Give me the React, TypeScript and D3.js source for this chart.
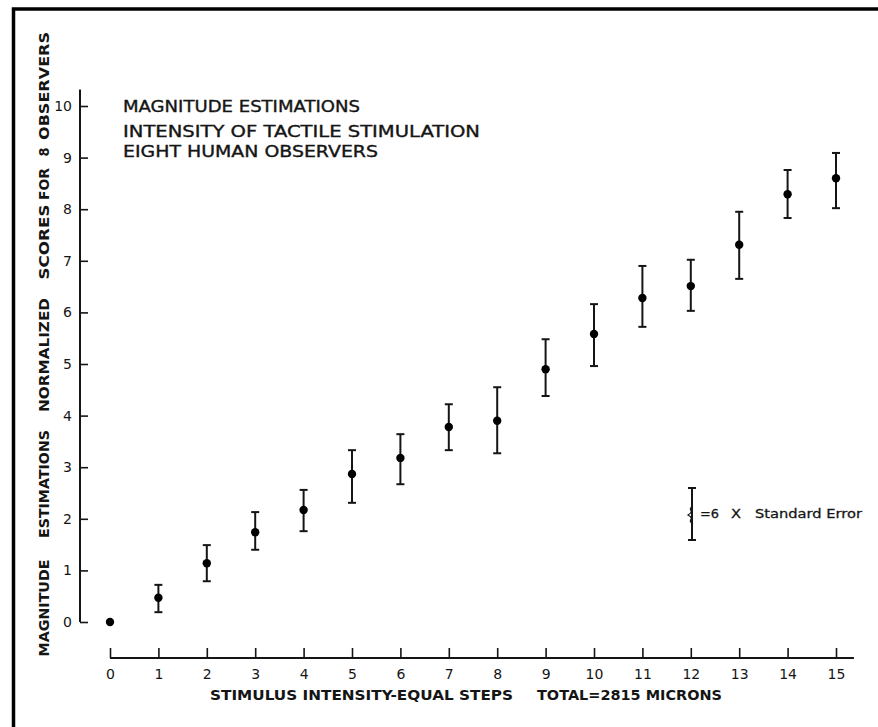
import React, { useRef, useEffect } from 'react';
import * as d3 from 'd3';

// stimulus steps (equal steps, total 2815 microns)
const steps = [0, 1, 2, 3, 4, 5, 6, 7, 8, 9, 10, 11, 12, 13, 14, 15];
// mean normalized magnitude estimations
const means = [0, 0.47, 1.14, 1.74, 2.17, 2.87, 3.18, 3.78, 3.9, 4.9, 5.58, 6.28, 6.51, 7.31, 8.29, 8.6];
// error bar ends (6 x standard error)
const upper = [null, 0.72, 1.49, 2.13, 2.56, 3.33, 3.64, 4.22, 4.55, 5.48, 6.16, 6.9, 7.02, 7.95, 8.76, 9.09];
const lower = [null, 0.19, 0.79, 1.4, 1.76, 2.31, 2.67, 3.33, 3.27, 4.38, 4.96, 5.72, 6.03, 6.65, 7.83, 8.02];
const yTicks = [0, 1, 2, 3, 4, 5, 6, 7, 8, 9, 10];

const titleLines = ['MAGNITUDE ESTIMATIONS', 'INTENSITY OF TACTILE STIMULATION', 'EIGHT HUMAN OBSERVERS'];
const yLabelWords = ['MAGNITUDE', 'ESTIMATIONS', 'NORMALIZED', 'SCORES', 'FOR', '8', 'OBSERVERS'];

const INK = '#151515';
const FONT = '"DejaVu Sans", sans-serif';

const App = () => {
  const ref = useRef<SVGSVGElement>(null);

  useEffect(() => {
    const svg = d3.select(ref.current);
    svg.selectAll('*').remove();

    const x = d3.scaleLinear().domain([0, 15]).range([110, 836]);
    const y = d3.scaleLinear().domain([0, 10]).range([622, 106]);

    // frame (only top and left edges show)
    svg.append('path')
      .attr('d', 'M13.5,727 V9 H878')
      .attr('fill', 'none')
      .attr('stroke', '#000')
      .attr('stroke-width', 3.5);

    // y axis
    const yAxis = d3.axisLeft(y)
      .tickValues(yTicks)
      .tickSizeInner(-8)
      .tickSizeOuter(0)
      .tickPadding(8)
      .tickFormat(d3.format('d'));
    const gy = svg.append('g').attr('transform', 'translate(80,0)').call(yAxis);
    gy.select('.domain').remove();
    gy.selectAll('line').attr('stroke', INK).attr('stroke-width', 1.6);
    gy.selectAll('text').attr('font-family', FONT).attr('font-size', 14).attr('fill', INK);
    svg.append('line')
      .attr('x1', 80).attr('x2', 80)
      .attr('y1', y(0)).attr('y2', y(10.32))
      .attr('stroke', INK).attr('stroke-width', 2);

    // x axis (offset below the plot)
    const xAxis = d3.axisBottom(x)
      .tickValues(steps)
      .tickSizeInner(-10)
      .tickSizeOuter(0)
      .tickPadding(11)
      .tickFormat(d3.format('d'));
    const gx = svg.append('g').attr('transform', 'translate(0,658)').call(xAxis);
    gx.select('.domain').remove();
    gx.selectAll('line').attr('stroke', INK).attr('stroke-width', 1.6);
    gx.selectAll('text').attr('font-family', FONT).attr('font-size', 14).attr('fill', INK);
    svg.append('line')
      .attr('x1', x(0)).attr('x2', x(15.37))
      .attr('y1', 658).attr('y2', 658)
      .attr('stroke', INK).attr('stroke-width', 2);

    // error bars
    const bars = steps.map((s, i) => ({ s, hi: upper[i], lo: lower[i] })).filter(d => d.hi != null);
    const eb = svg.append('g').attr('stroke', INK);
    eb.selectAll('line.bar').data(bars).join('line')
      .attr('class', 'bar')
      .attr('x1', d => x(d.s)).attr('x2', d => x(d.s))
      .attr('y1', d => y(d.hi as number)).attr('y2', d => y(d.lo as number))
      .attr('stroke-width', 2);
    eb.selectAll('line.cap-hi').data(bars).join('line')
      .attr('class', 'cap-hi')
      .attr('x1', d => x(d.s) - 4).attr('x2', d => x(d.s) + 4)
      .attr('y1', d => y(d.hi as number)).attr('y2', d => y(d.hi as number))
      .attr('stroke-width', 2);
    eb.selectAll('line.cap-lo').data(bars).join('line')
      .attr('class', 'cap-lo')
      .attr('x1', d => x(d.s) - 4).attr('x2', d => x(d.s) + 4)
      .attr('y1', d => y(d.lo as number)).attr('y2', d => y(d.lo as number))
      .attr('stroke-width', 2);

    // mean points
    svg.append('g').selectAll('circle').data(means).join('circle')
      .attr('cx', (d, i) => x(steps[i]))
      .attr('cy', d => y(d))
      .attr('r', 4.2)
      .attr('fill', '#000');

    // title block
    const titleLen = [237, 357, 255];
    const titleBase = [112, 137, 157];
    svg.append('g').selectAll('text').data(titleLines).join('text')
      .attr('x', 123)
      .attr('y', (d, i) => titleBase[i])
      .attr('textLength', (d, i) => titleLen[i])
      .attr('lengthAdjust', 'spacingAndGlyphs')
      .attr('font-family', FONT)
      .attr('font-size', 15)
      .attr('fill', INK)
      .attr('stroke', INK)
      .attr('stroke-width', 0.35)
      .text(d => d);

    // y axis title, word by word
    const wordCenter = [608, 484, 355, 242, 184, 152, 86];
    const wordLen = [97, 108, 114, 75, 32, 9, 108];
    svg.append('g').selectAll('text').data(yLabelWords).join('text')
      .attr('transform', (d, i) => `translate(49,${wordCenter[i]}) rotate(-90)`)
      .attr('text-anchor', 'middle')
      .attr('textLength', (d, i) => wordLen[i])
      .attr('lengthAdjust', 'spacingAndGlyphs')
      .attr('font-family', FONT)
      .attr('font-size', 14)
      .attr('font-weight', 'bold')
      .attr('fill', INK)
      .text(d => d);

    // x axis title
    const xTitle = svg.append('g')
      .attr('font-family', FONT).attr('font-size', 14).attr('font-weight', 'bold').attr('fill', INK);
    xTitle.append('text')
      .attr('x', 210).attr('y', 700)
      .attr('textLength', 303).attr('lengthAdjust', 'spacingAndGlyphs')
      .text('STIMULUS INTENSITY-EQUAL STEPS');
    xTitle.append('text')
      .attr('x', 537).attr('y', 700)
      .attr('textLength', 185).attr('lengthAdjust', 'spacingAndGlyphs')
      .text('TOTAL=2815 MICRONS');

    // legend: error bar key
    const lg = svg.append('g').attr('stroke', INK).attr('fill', 'none');
    lg.append('line').attr('x1', 692).attr('x2', 692).attr('y1', 488).attr('y2', 540).attr('stroke-width', 2);
    lg.append('line').attr('x1', 688).attr('x2', 696).attr('y1', 488).attr('y2', 488).attr('stroke-width', 2);
    lg.append('line').attr('x1', 688).attr('x2', 696).attr('y1', 540).attr('y2', 540).attr('stroke-width', 2);
    lg.append('path')
      .attr('d', 'M693,506 q-4,2 -2,5 q1,2 -3,4 q4,2 3,4 q-2,3 2,5')
      .attr('stroke-width', 1.1);
    const lt = svg.append('g')
      .attr('font-family', FONT).attr('font-size', 13).attr('fill', INK)
      .attr('stroke', INK).attr('stroke-width', 0.3);
    lt.append('text').attr('x', 700).attr('y', 518)
      .attr('textLength', 19).attr('lengthAdjust', 'spacingAndGlyphs').text('=6');
    lt.append('text').attr('x', 731).attr('y', 518)
      .attr('textLength', 10).attr('lengthAdjust', 'spacingAndGlyphs').text('X');
    lt.append('text').attr('x', 755).attr('y', 518)
      .attr('textLength', 107).attr('lengthAdjust', 'spacingAndGlyphs').text('Standard Error');
  }, []);

  return (
    <svg
      ref={ref}
      width={878}
      height={727}
      style={{ position: 'absolute', left: 0, top: 0, background: '#fff' }}
    />
  );
};

export default App;
